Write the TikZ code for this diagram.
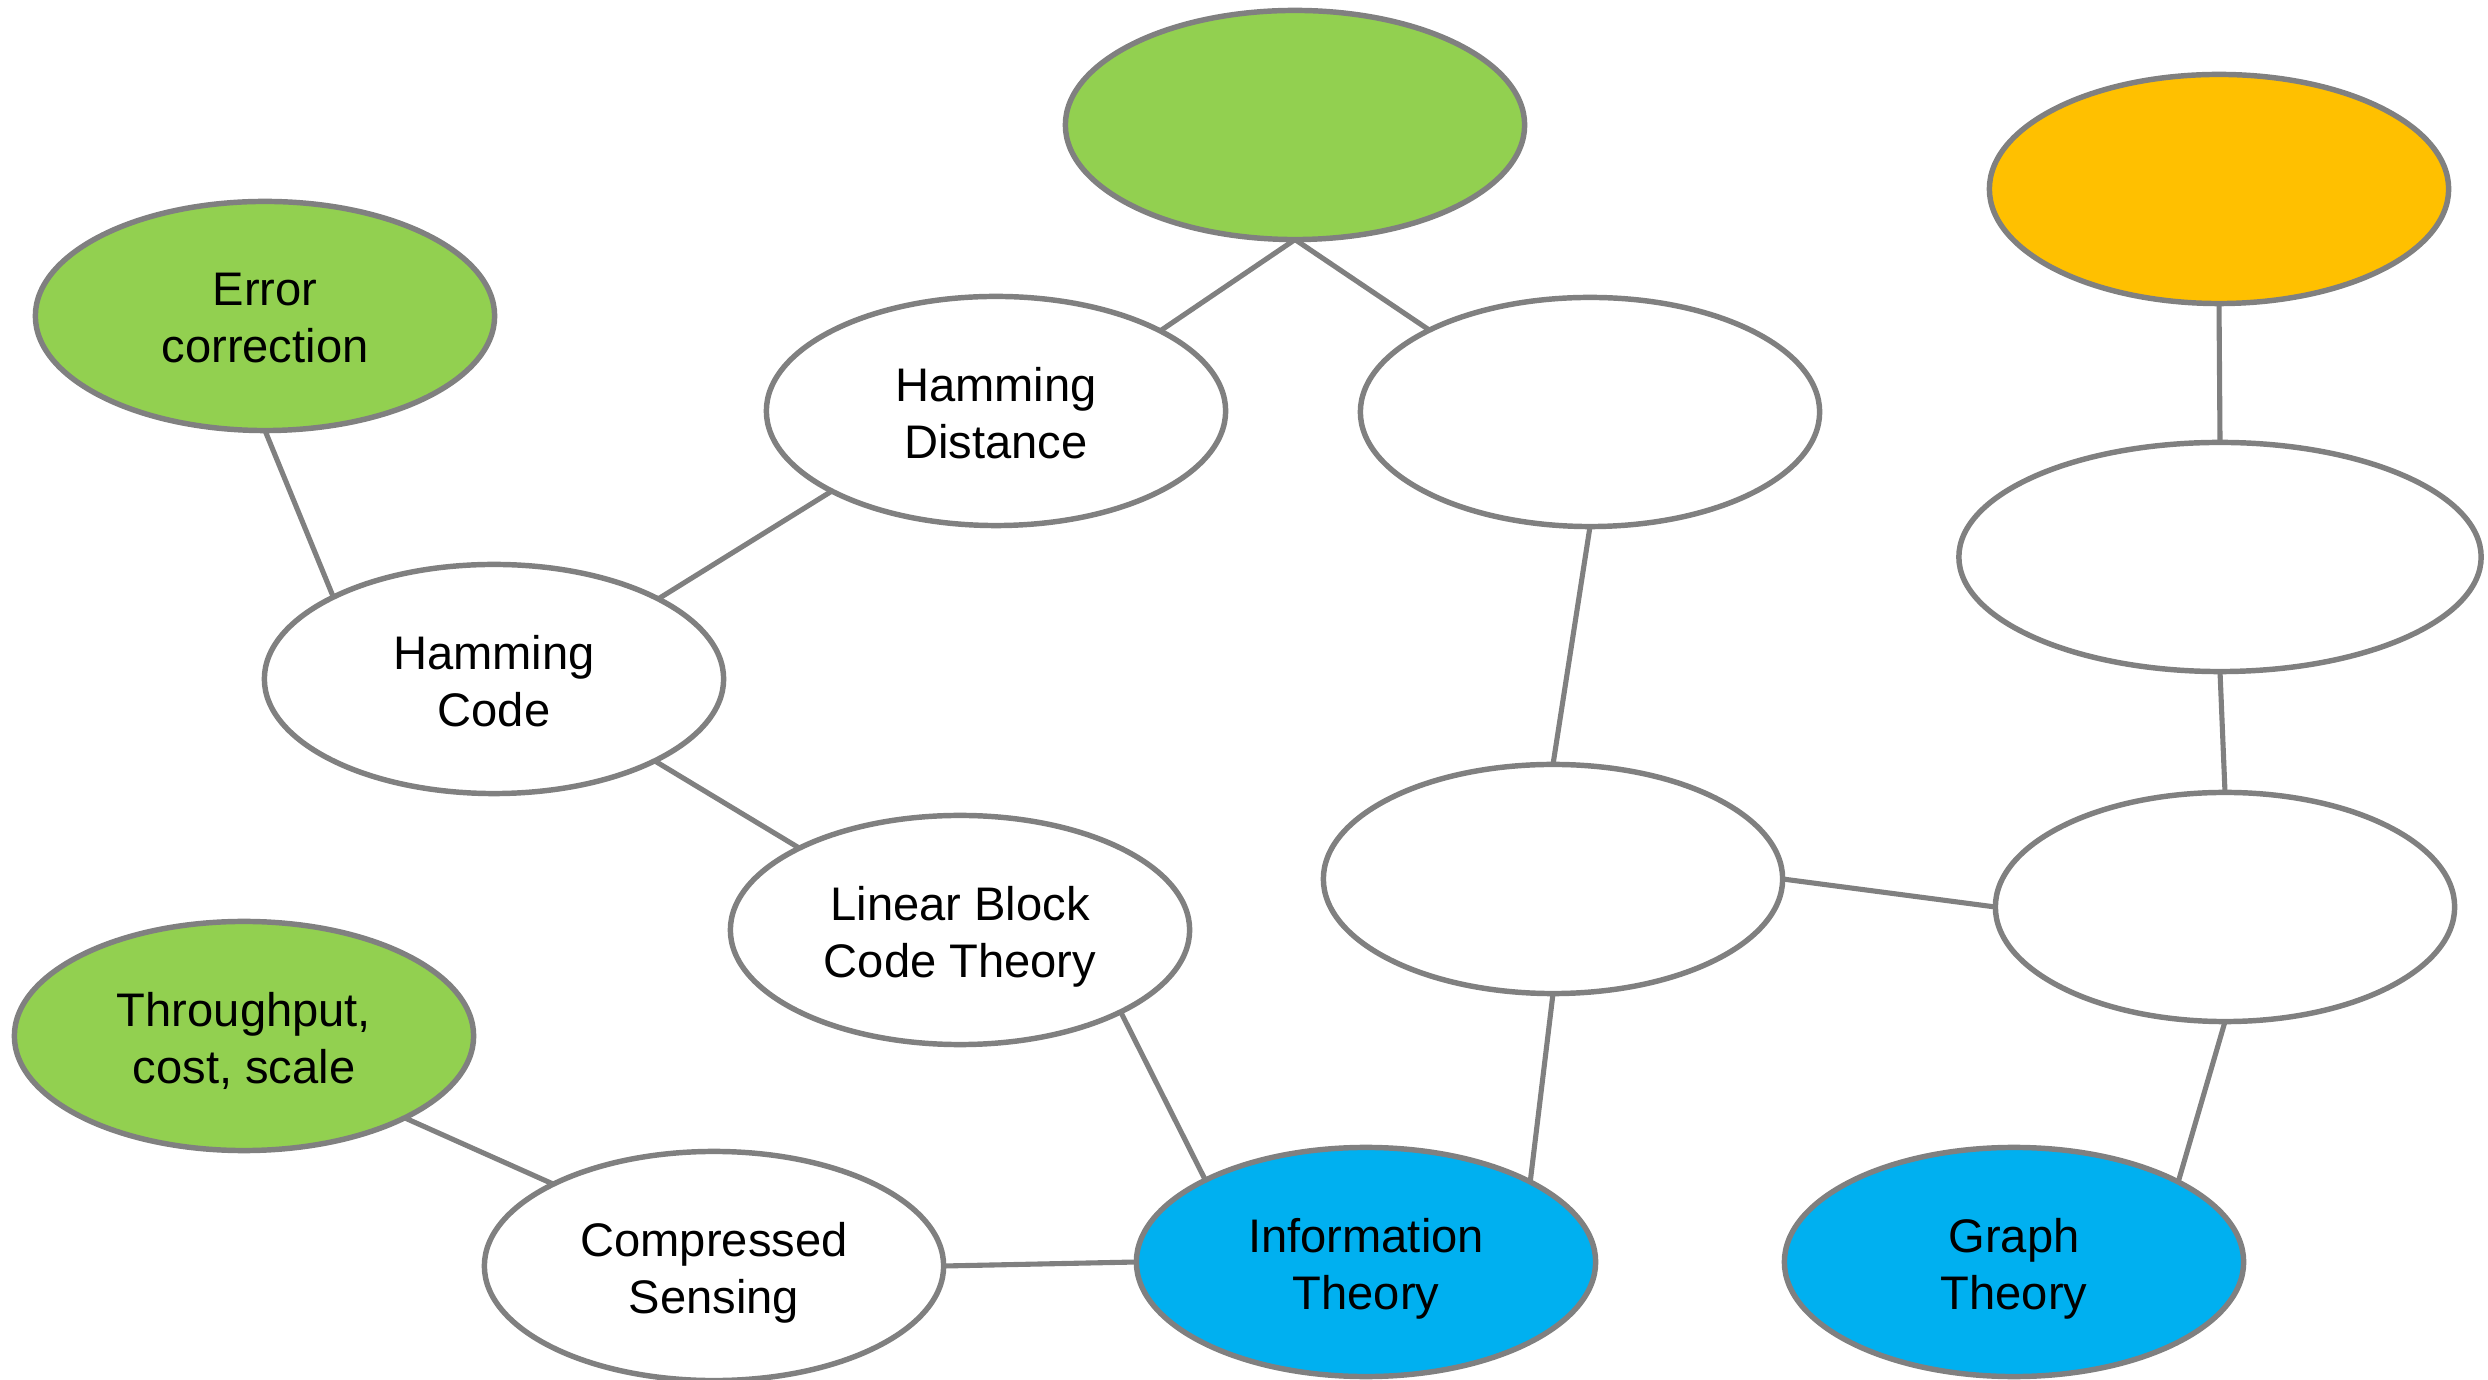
\documentclass[tikz,border=0pt]{standalone}
\usepackage{fontspec}
\setmainfont{Liberation Sans}
\usetikzlibrary{shapes.geometric}
\definecolor{edgegray}{HTML}{808080}
\definecolor{leafgreen}{HTML}{92D050}
\definecolor{amber}{HTML}{FFC000}
\definecolor{skyblue}{HTML}{00B0F0}
\begin{document}
\begin{tikzpicture}[x=0.01cm,y=-0.01cm,
  bubble/.style={ellipse, draw=edgegray, line width=1.55pt, fill=white,
    minimum width=4.59cm, minimum height=2.29cm, inner sep=0pt, outer sep=0pt,
    align=center, text depth=0pt, font=\fontsize{13.4pt}{16.2pt}\selectfont},
  widebubble/.style={bubble, minimum width=5.22cm},
  greenbubble/.style={bubble, fill=leafgreen},
  amberbubble/.style={bubble, fill=amber},
  bluebubble/.style={bubble, fill=skyblue},
  label/.style={align=center, inner sep=0pt, text depth=0pt, yshift=-0.02cm,
    font=\fontsize{13.4pt}{16.2pt}\selectfont},
  link/.style={draw=edgegray, line width=1.45pt}]
\useasboundingbox (0,0) rectangle (2488,1380);
\node[greenbubble] (top) at (1295,125) {};
\node[amberbubble] (orange) at (2219,189) {};
\node[greenbubble] (err) at (265,316) {};
\node[bubble] (hd) at (996,411) {};
\node[bubble] (tm) at (1590,412) {};
\node[widebubble] (rw) at (2220,557) {};
\node[bubble] (hc) at (494,679) {};
\node[bubble] (mid) at (1553,879) {};
\node[bubble] (rl) at (2225,907) {};
\node[bubble] (lb) at (960,930) {};
\node[greenbubble] (thr) at (244,1036) {};
\node[bubble] (cs) at (714,1266) {};
\node[bluebubble] (it) at (1366,1262) {};
\node[bluebubble] (gt) at (2014,1262) {};
\node[label] (errtxt) at (err.center) {Error\\correction};
\node[label] (hdtxt) at (hd.center) {Hamming\\Distance};
\node[label] (hctxt) at (hc.center) {Hamming\\Code};
\node[label] (lbtxt) at (lb.center) {Linear Block\\Code Theory};
\node[label] (thrtxt) at (thr.center) {Throughput,\\cost, scale};
\node[label] (cstxt) at (cs.center) {Compressed\\Sensing};
\node[label] (ittxt) at (it.center) {Information\\Theory};
\node[label] (gttxt) at (gt.center) {Graph\\Theory};
\draw[link] (top.south) -- (hd.26.5);
\draw[link] (top.south) -- (tm.153.5);
\draw[link] (err.south) -- (hc.153.5);
\draw[link] (hc.26.5) -- (hd.206.5);
\draw[link] (hc.333.5) -- (lb.153.5);
\draw[link] (tm.south) -- (mid.north);
\draw[link] (orange.south) -- (rw.north);
\draw[link] (rw.south) -- (rl.north);
\draw[link] (mid.east) -- (rl.west);
\draw[link] (mid.south) -- (it.26.5);
\draw[link] (rl.south) -- (gt.26.5);
\draw[link] (lb.333.5) -- (it.153.5);
\draw[link] (thr.333.5) -- (cs.153.5);
\draw[link] (cs.east) -- (it.west);
\end{tikzpicture}
\end{document}
